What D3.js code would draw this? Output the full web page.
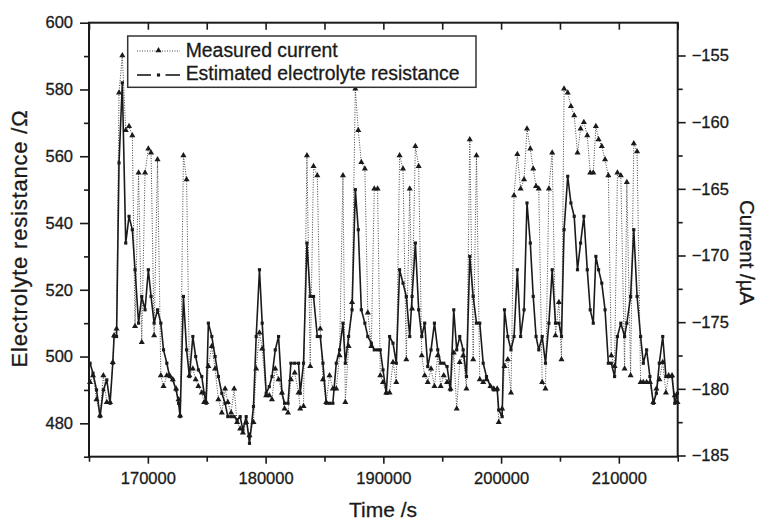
<!DOCTYPE html>
<html><head><meta charset="utf-8">
<script src="https://cdn.jsdelivr.net/npm/d3@7"></script>
<style>
body{margin:0;background:#fff;}
svg{display:block;font-family:"Liberation Sans",Arial,Helvetica,sans-serif;}
</style></head><body>
<svg id="c" width="759" height="522"></svg>
<script>
// Time /s
const times = [165090,165340,165640,165940,166220,166510,166790,167020,167130,167340,
167550,167830,168120,168400,168680,168910,169210,169480,169760,170040,
170270,170530,170820,171100,171330,171610,171850,172120,172400,172610,
172740,173020,173290,173530,173820,174060,174290,174580,174780,174950,
175140,175430,175710,175990,176280,176560,176790,177070,177330,177580,
177840,178070,178350,178630,178970,179200,179480,179710,180050,180310,
180540,180820,181100,181390,181610,181900,182150,182470,182800,182940,
183220,183510,183790,184070,184390,184640,184870,185150,185430,185710,
186000,186280,186570,186770,187050,187340,187620,187870,188130,188430,
188680,188980,189230,189510,189740,189970,190250,190530,190820,191100,
191380,191670,191950,192240,192440,192720,193000,193260,193510,193770,
194050,194340,194620,194870,195130,195410,195700,195980,196230,196490,
196780,197060,197340,197630,197910,198190,198480,198760,199100,199380,
199670,199800,200090,200290,200570,200840,201100,201380,201660,201950,
202200,202480,202730,202970,203200,203490,203770,204060,204340,204620,
204910,205130,205350,205660,205930,206210,206490,206750,207030,207320,
207570,207830,208050,208280,208550,208830,209110,209360,209640,209880,
210170,210490,210680,211000,211270,211550,211850,212080,212360,212640,
212930,213190,213440,213730,214000,214230,214520,214750,214980];

// Estimated electrolyte resistance /Ohm (left axis)
const resistance = [498,495,490,482,490,493,486,498,506,506,
558,582,534,542,538,526,510,518,514,526,
518,510,514,510,502,498,494,493,490,486,
482,518,502,494,506,500,496,494,489,486,
510,506,500,494,489,486,482,482,482,481,
482,478,482,474,485,506,526,510,489,491,
494,502,506,489,486,486,498,498,498,489,
498,534,518,518,506,506,498,486,486,486,
498,502,510,498,506,514,550,538,514,510,
506,504,502,502,502,496,489,506,504,498,
526,522,518,506,518,534,514,506,510,497,
502,510,502,498,498,497,490,514,502,506,
502,494,530,518,510,510,498,494,491,490,
490,484,482,514,506,502,506,526,506,514,
546,534,518,506,502,506,498,510,526,510,
510,506,538,554,546,542,526,534,542,526,
514,510,530,526,522,514,498,498,494,506,
510,506,510,518,538,518,506,498,502,494,
486,489,498,506,494,494,494,486,489];

// Measured current /uA (right axis)
const current = [-179.5,-179,-180.8,-182,-179,-181,-181,-178,-176,-175.5,
-157.8,-155,-160.6,-160.3,-161,-175.3,-163.8,-176.5,-163.8,-162,
-162.3,-176,-162.8,-179,-179.8,-179,-179,-179.3,-180,-180.8,
-182,-162.5,-164.3,-179,-178.5,-179.3,-179.8,-180.3,-181,-181,
-178.3,-176.8,-178.5,-180.8,-181.8,-180,-181,-181.8,-180,-182.5,
-183,-183.3,-182.5,-183.5,-182.5,-178.5,-175.8,-177,-180.5,-180.5,
-180.8,-178.5,-179.3,-180.3,-181.5,-181.8,-179.3,-178.8,-180.3,-181.5,
-181.3,-162.5,-178.3,-163.3,-164,-175.5,-179.3,-181,-179,-180,
-180,-177.5,-164,-181,-176.8,-173.5,-157.5,-160.6,-163,-163.5,
-174.3,-176.8,-165,-165,-179,-179.5,-180.3,-180.3,-178,-179.5,
-162.5,-163.5,-177.8,-165,-174,-161.8,-163.3,-177.5,-179,-179.5,
-178.5,-179.8,-177.5,-179.8,-179,-179.5,-180,-177.3,-181.5,-178,
-177.5,-180,-161.3,-177.8,-162.5,-179.3,-179.5,-179.3,-179.8,-180,
-180,-182.5,-181.5,-178.3,-177.8,-180.3,-165.5,-162.4,-165,-164.3,
-160.5,-162,-163.5,-164.8,-165,-179.5,-180,-165,-162.3,-176,
-173.5,-177.8,-157.5,-157.8,-158.8,-159.5,-162.3,-160.5,-160,-161,
-163.8,-163.8,-160.3,-161.3,-161.8,-162.8,-164,-177.5,-178.3,-163.8,
-164,-178.5,-164.5,-179,-161.6,-162.2,-179.5,-179.5,-179.5,-179.5,
-181,-180,-179.3,-178,-180.3,-179,-179,-180.5,-181];

const xMajorTicks = [170000,180000,190000,200000,210000];
const xMinorTicks = [165000,175000,185000,195000,205000,215000];
const leftMajorTicks = [480,500,520,540,560,580,600];
const leftMinorTicks = [470,490,510,530,550,570,590];
const rightMajorTicks = [-185,-180,-175,-170,-165,-160,-155];
const rightMinorTicks = [-182.5,-177.5,-172.5,-167.5,-162.5,-157.5];
const legendLabels = ["Measured current","Estimated electrolyte resistance"];
const xTitle = "Time /s", yLeftTitle = "Electrolyte resistance /\u03A9", yRightTitle = "Current /\u00B5A";

const svg = d3.select("#c");
const L = 89, R = 677.7, T = 22.7, B = 456.7;
const x = d3.scaleLinear().domain([165000,215000]).range([L,R]);
const yL = d3.scaleLinear().domain([470,600]).range([B,T]);
const yR = d3.scaleLinear().domain([-185,-155]).range([455.5,55.5]);
const ink = "#1a1a1a";

function heavy(sel){ return sel.attr("fill",ink).attr("stroke",ink).attr("stroke-width",0.3); }
function styleAxis(g){
  g.select(".domain").remove();
  g.selectAll(".tick line").attr("stroke",ink).attr("stroke-width",1.6);
  heavy(g.selectAll(".tick text")).attr("font-size","16.5px").attr("font-family","Liberation Sans, Arial, sans-serif");
}
// bottom axis
svg.append("g").attr("transform",`translate(0,${B})`)
  .call(d3.axisBottom(x).tickValues(xMajorTicks).tickSize(7).tickPadding(9).tickFormat(d3.format("d"))).call(styleAxis);
svg.append("g").attr("transform",`translate(0,${B})`)
  .call(d3.axisBottom(x).tickValues(xMinorTicks).tickSize(5).tickFormat("")).call(styleAxis);
// top axis (inward ticks)
svg.append("g").attr("transform",`translate(0,${T})`)
  .call(d3.axisBottom(x).tickValues(xMajorTicks.concat(xMinorTicks)).tickSize(7).tickFormat("")).call(styleAxis);
// left axis
svg.append("g").attr("transform",`translate(${L},0)`)
  .call(d3.axisLeft(yL).tickValues(leftMajorTicks).tickSize(9).tickPadding(7).tickFormat(d3.format("d"))).call(styleAxis);
svg.append("g").attr("transform",`translate(${L},0)`)
  .call(d3.axisLeft(yL).tickValues(leftMinorTicks).tickSize(5).tickFormat("")).call(styleAxis);
// right axis
svg.append("g").attr("transform",`translate(${R},0)`)
  .call(d3.axisRight(yR).tickValues(rightMajorTicks).tickSize(8).tickPadding(6).tickFormat(d3.format("d"))).call(styleAxis);
svg.append("g").attr("transform",`translate(${R},0)`)
  .call(d3.axisRight(yR).tickValues(rightMinorTicks).tickSize(5).tickFormat("")).call(styleAxis);

// data
const idx = d3.range(times.length);
const curLine = d3.line().x(i=>x(times[i])).y(i=>yR(current[i]));
const resLine = d3.line().x(i=>x(times[i])).y(i=>yL(resistance[i]));
svg.append("path").attr("d",curLine(idx)).attr("fill","none").attr("stroke","#444")
  .attr("stroke-width",1).attr("stroke-dasharray","1,1.5");
const tri = d3.symbol(d3.symbolTriangle).size(16);
svg.append("g").selectAll("path").data(idx).join("path")
  .attr("d",tri).attr("transform",i=>`translate(${x(times[i])},${yR(current[i])})`).attr("fill",ink);
svg.append("path").attr("d",resLine(idx)).attr("fill","none").attr("stroke",ink)
  .attr("stroke-width",1.6).attr("stroke-linejoin","round");
const sq = d3.symbol(d3.symbolSquare).size(10);
svg.append("g").selectAll("path").data(idx).join("path")
  .attr("d",sq).attr("transform",i=>`translate(${x(times[i])},${yL(resistance[i])})`).attr("fill",ink);

// frame
svg.append("rect").attr("x",L).attr("y",T).attr("width",R-L).attr("height",B-T)
  .attr("fill","none").attr("stroke",ink).attr("stroke-width",2);

// legend
const lg = svg.append("g");
lg.append("rect").attr("x",127.7).attr("y",36).attr("width",348.3).attr("height",51.3)
  .attr("fill","#fff").attr("stroke","#333").attr("stroke-width",1.5);
lg.append("line").attr("x1",137).attr("x2",180).attr("y1",51).attr("y2",51)
  .attr("stroke","#444").attr("stroke-width",1).attr("stroke-dasharray","1,1.5");
lg.append("path").attr("d",tri).attr("transform","translate(158.5,50.5)").attr("fill",ink);
lg.append("line").attr("x1",137).attr("x2",151).attr("y1",75).attr("y2",75).attr("stroke",ink).attr("stroke-width",1.6);
lg.append("line").attr("x1",165.5).attr("x2",180).attr("y1",75).attr("y2",75).attr("stroke",ink).attr("stroke-width",1.6);
lg.append("path").attr("d",sq).attr("transform","translate(158.5,75)").attr("fill",ink);
heavy(lg.append("text")).attr("x",185.7).attr("y",56.7).attr("font-size","19.4px").text(legendLabels[0]);
heavy(lg.append("text")).attr("x",185.7).attr("y",80).attr("font-size","19.4px").text(legendLabels[1]);

// titles
heavy(svg.append("text")).attr("transform","translate(383,517)").attr("text-anchor","middle")
  .attr("font-size","21px").text(xTitle);
heavy(svg.append("text")).attr("transform","translate(26.7,238.5) rotate(-90)").attr("text-anchor","middle")
  .attr("font-size","22px").attr("letter-spacing","0.8px").text(yLeftTitle);
heavy(svg.append("text")).attr("transform","translate(740,200) rotate(90)").attr("text-anchor","start")
  .attr("font-size","20.5px").text(yRightTitle);
</script>
</body></html>
